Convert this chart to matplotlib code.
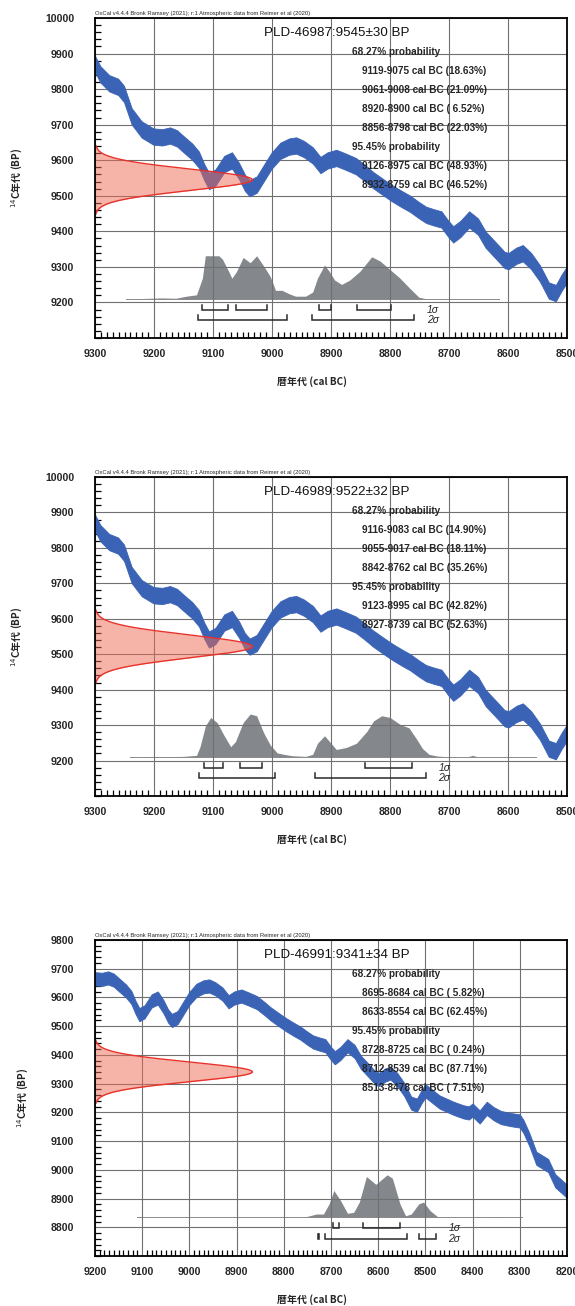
import numpy as np
import matplotlib
matplotlib.use("Agg")
import matplotlib.pyplot as plt
from matplotlib.ticker import MultipleLocator, FixedLocator

plt.rcParams['font.family'] = ['Liberation Sans', 'Noto Sans CJK JP', 'DejaVu Sans']

# ---------------- calibration curve ----------------
cal_year = [9300, 9290, 9275, 9260, 9250, 9237, 9220, 9200, 9185, 9172, 9160, 9150,
            9134, 9123, 9114, 9106, 9095, 9080, 9067, 9055, 9045, 9037, 9025, 9012,
            9000, 8985, 8970, 8958, 8945, 8930, 8917, 8905, 8890, 8875, 8857, 8840,
            8828, 8810, 8795, 8780, 8765, 8750, 8738, 8725, 8712, 8700, 8692, 8680,
            8665, 8650, 8637, 8620, 8605, 8598, 8585, 8574, 8560, 8545, 8530, 8518,
            8508, 8500, 8490, 8470, 8455, 8440, 8420, 8408, 8400, 8385, 8370, 8355,
            8340, 8320, 8300, 8292, 8280, 8265, 8250, 8240, 8225, 8210, 8200]
cal_bp = [9872, 9840, 9815, 9805, 9785, 9722, 9685, 9665, 9663, 9668, 9660, 9645,
          9622, 9600, 9565, 9540, 9550, 9588, 9598, 9568, 9535, 9520, 9530, 9565,
          9597, 9625, 9637, 9640, 9630, 9612, 9585, 9598, 9605, 9595, 9582, 9560,
          9543, 9522, 9505, 9490, 9476, 9458, 9445, 9438, 9432, 9405, 9390, 9405,
          9432, 9412, 9375, 9345, 9318, 9315, 9330, 9337, 9315, 9280, 9232, 9225,
          9255, 9275, 9262, 9236, 9225, 9214, 9202, 9198, 9208, 9184, 9214, 9195,
          9182, 9175, 9170, 9150, 9106, 9040, 9025, 9015, 8962, 8940, 8925]
cal_halfwidth = 23

header = "OxCal v4.4.4 Bronk Ramsey (2021); r:1 Atmospheric data from Reimer et al (2020)"

# ---------------- sample 1 ----------------
p1_name = "PLD-46987"
p1_bp = 9545
p1_err = 30
p1_xlim = (9300, 8500)
p1_ylim = (9100, 10000)
p1_yticks = [9200, 9300, 9400, 9500, 9600, 9700, 9800, 9900, 10000]
p1_dist_year = [9247, 9186, 9163, 9145, 9128, 9118, 9113, 9101, 9090, 9084, 9075, 9068,
                9060, 9049, 9037, 9026, 9014, 9003, 8994, 8983, 8971, 8960, 8943, 8931,
                8923, 8911, 8903, 8894, 8882, 8868, 8851, 8831, 8817, 8800, 8783, 8766,
                8751, 8737, 8615]
p1_dist_prob = [0, 3, 2, 8, 12, 60, 125, 125, 125, 115, 85, 60,
                80, 120, 105, 125, 95, 65, 25, 25, 15, 8, 8, 20,
                60, 98, 80, 55, 42, 55, 80, 122, 110, 85, 60, 30,
                5, 0, 0]
p1_s1 = [(9119, 9075, 18.63), (9061, 9008, 21.09), (8920, 8900, 6.52), (8856, 8798, 22.03)]
p1_s2 = [(9126, 8975, 48.93), (8932, 8759, 46.52)]

# ---------------- sample 2 ----------------
p2_name = "PLD-46989"
p2_bp = 9522
p2_err = 32
p2_xlim = (9300, 8500)
p2_ylim = (9100, 10000)
p2_yticks = [9200, 9300, 9400, 9500, 9600, 9700, 9800, 9900, 10000]
p2_dist_year = [9240, 9151, 9128, 9122, 9113, 9104, 9093, 9082, 9070, 9062, 9049, 9037,
                9026, 9014, 9003, 8991, 8980, 8966, 8943, 8931, 8923, 8911, 8900, 8891,
                8874, 8857, 8839, 8828, 8814, 8800, 8783, 8768, 8756, 8745, 8734, 8720,
                8703, 8690, 8670, 8660, 8650, 8553]
p2_dist_prob = [0, 2, 5, 30, 90, 115, 100, 65, 30, 45, 100, 125,
                120, 70, 35, 12, 8, 4, 2, 8, 40, 62, 40, 22,
                28, 40, 75, 105, 120, 115, 95, 85, 55, 25, 8, 3,
                1, 0, 0, 5, 0, 0]
p2_s1 = [(9116, 9083, 14.90), (9055, 9017, 18.11), (8842, 8762, 35.26)]
p2_s2 = [(9123, 8995, 42.82), (8927, 8739, 52.63)]

# ---------------- sample 3 ----------------
p3_name = "PLD-46991"
p3_bp = 9341
p3_err = 34
p3_xlim = (9200, 8200)
p3_ylim = (8700, 9800)
p3_yticks = [8800, 8900, 9000, 9100, 9200, 9300, 9400, 9500, 9600, 9700, 9800]
p3_dist_year = [9112, 8758, 8754, 8731, 8716, 8704, 8694, 8680, 8665, 8652, 8640, 8625,
                8605, 8581, 8570, 8554, 8542, 8530, 8514, 8504, 8490, 8474, 8454,
                8360, 8350, 8340, 8296]
p3_dist_prob = [0, 0, 2, 10, 10, 40, 79, 50, 12, 15, 45, 120,
                97, 125, 115, 40, 5, 10, 40, 45, 20, 2, 0,
                0, 3, 0, 0]
p3_s1 = [(8695, 8684, 5.82), (8633, 8554, 62.45)]
p3_s2 = [(8728, 8725, 0.24), (8712, 8539, 87.71), (8513, 8478, 7.51)]

panels = [
    (p1_name, p1_bp, p1_err, p1_xlim, p1_ylim, p1_yticks, p1_dist_year, p1_dist_prob, p1_s1, p1_s2),
    (p2_name, p2_bp, p2_err, p2_xlim, p2_ylim, p2_yticks, p2_dist_year, p2_dist_prob, p2_s1, p2_s2),
    (p3_name, p3_bp, p3_err, p3_xlim, p3_ylim, p3_yticks, p3_dist_year, p3_dist_prob, p3_s1, p3_s2),
]

# axes rectangles in pixels: (left, top, right, bottom)
W, H = 575, 1306
rects_px = [(95, 18, 567, 338), (95, 477, 567, 796), (95, 940, 567, 1256)]

fig = plt.figure(figsize=(W / 100, H / 100), dpi=100)

BLUE = '#3a63b5'
GRAY = '#84888c'
RED = '#e8322a'
SALMON = '#ee6a55'
TXT = '#262626'


def draw_panel(ax, name, bp, err, xlim, ylim, yticks, dyear, dprob, s1, s2):
    x0, x1 = xlim
    y0, y1 = ylim
    yr = y1 - y0
    ax.set_xlim(x0, x1)
    ax.set_ylim(y0, y1)

    # calibration band
    cy = np.array(cal_year, float)
    cb = np.array(cal_bp, float)
    ax.fill_between(cy, cb - cal_halfwidth, cb + cal_halfwidth, color=BLUE,
                    lw=0.6, edgecolor=BLUE, zorder=3)

    # radiocarbon measurement (normal curve on the y axis)
    yy = np.linspace(bp - 3.2 * err, bp + 3.2 * err, 300)
    g = np.exp(-0.5 * ((yy - bp) / err) ** 2)
    xg = x0 - (x0 - x1) * g / 3.0
    ax.fill_betweenx(yy, x0, xg, color=SALMON, alpha=0.5, lw=0, zorder=4)
    ax.plot(xg, yy, color=RED, lw=1.0, zorder=5)

    # calibrated distribution
    base = y0 + 0.122 * yr
    dp = np.array(dprob, float)
    dh = dp / dp.max() * 0.135 * yr
    dy = np.array(dyear, float)
    ax.fill_between(dy, base, base + dh, color=GRAY, lw=0, zorder=1)
    ax.plot([dy[0], dy[-1]], [base, base], color='#8a8a8a', lw=0.7, zorder=1)

    # range brackets
    for ranges, frac in ((s1, 0.088), (s2, 0.055)):
        yb = y0 + frac * yr
        th = 0.016 * yr
        for a, b, _ in ranges:
            ax.plot([a, a, b, b], [yb + th, yb, yb, yb + th], color='#2a2a2a',
                    lw=1.1, zorder=5, solid_joinstyle='miter')
    xend = min(r[1] for r in s2)
    ax.annotate('1σ', xy=(xend, y0 + 0.088 * yr), xytext=(9, 0), textcoords='offset points',
                fontsize=7.5, color=TXT, va='center', ha='left', style='italic', zorder=6)
    ax.annotate('2σ', xy=(xend, y0 + 0.055 * yr), xytext=(9, 0), textcoords='offset points',
                fontsize=7.5, color=TXT, va='center', ha='left', style='italic', zorder=6)

    # grid / ticks
    ax.xaxis.set_major_locator(MultipleLocator(100))
    ax.xaxis.set_minor_locator(MultipleLocator(10))
    ax.yaxis.set_major_locator(FixedLocator(yticks))
    ax.yaxis.set_minor_locator(MultipleLocator(20))
    ax.grid(True, which='major', color='#707070', lw=0.8, zorder=2)
    ax.set_axisbelow(False)
    ax.tick_params(axis='x', which='both', direction='in', length=4, width=0.9,
                   top=False, bottom=True, labelsize=7.6, pad=8, labelcolor=TXT)
    ax.tick_params(axis='y', which='both', direction='in', length=4, width=0.9,
                   left=True, right=False, labelsize=7.6, pad=15, labelcolor=TXT)
    ax.tick_params(which='major', length=0)
    for lab in ax.get_xticklabels() + ax.get_yticklabels():
        lab.set_fontweight('bold')
    for sp in ax.spines.values():
        sp.set_linewidth(1.3)
        sp.set_color('black')
        sp.set_zorder(7)

    # texts
    ax.text(0.0, 1.005, header, transform=ax.transAxes, fontsize=4.2, ha='left', va='bottom',
            color=TXT)
    ax.annotate(f"{name}:{bp}±{err} BP", xy=(0.513, 1.0), xycoords='axes fraction',
                xytext=(0, -11), textcoords='offset points', ha='center', va='center',
                fontsize=9.6, color='#111111', zorder=8)
    lines = [("68.27% probability", 0.545)]
    lines += [(f"{a}-{b} cal BC ({p:5.2f}%)", 0.565) for a, b, p in s1]
    lines += [("95.45% probability", 0.545)]
    lines += [(f"{a}-{b} cal BC ({p:5.2f}%)", 0.565) for a, b, p in s2]
    for i, (t, xf) in enumerate(lines):
        ax.annotate(t, xy=(xf, 1.0), xycoords='axes fraction',
                    xytext=(0, -24.3 - 13.7 * i), textcoords='offset points',
                    ha='left', va='center', fontsize=7.2, fontweight='bold', color=TXT, zorder=8)

    ax.set_xlabel('暦年代 (cal BC)', fontsize=7.2, fontweight='bold', color=TXT,
                  family=['Noto Sans CJK JP', 'DejaVu Sans'])
    ax.xaxis.set_label_coords(0.46, -0.12)
    ax.set_ylabel(r'$^{14}$C年代 (BP)', fontsize=7.2, fontweight='bold', color=TXT,
                  family=['Noto Sans CJK JP', 'DejaVu Sans'], labelpad=14)


for rect, p in zip(rects_px, panels):
    l, t, r, b = rect
    ax = fig.add_axes([l / W, 1 - b / H, (r - l) / W, (b - t) / H])
    draw_panel(ax, *p)

fig.savefig('out.png', dpi=100, facecolor='white')
